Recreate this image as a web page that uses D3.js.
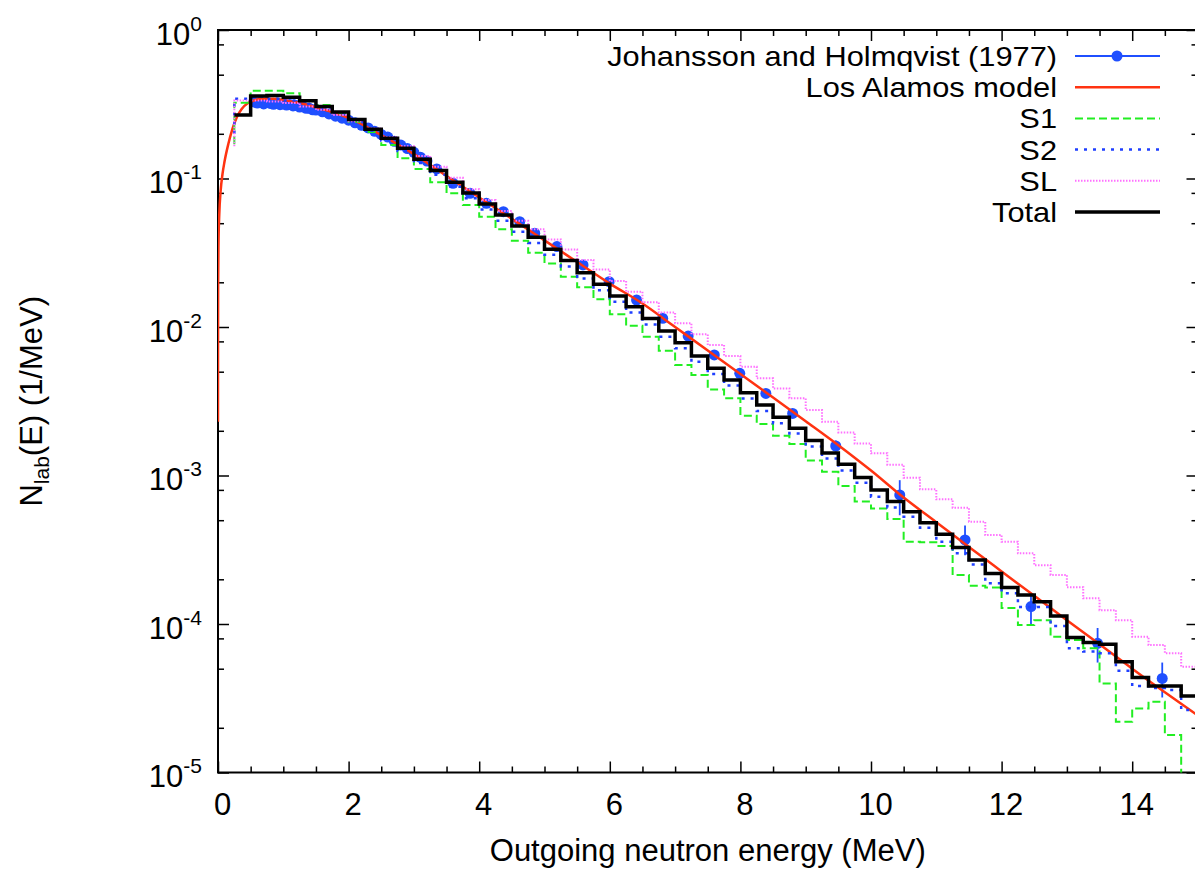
<!DOCTYPE html>
<html>
<head>
<meta charset="utf-8">
<script src="https://cdn.jsdelivr.net/npm/d3@7.9.0/dist/d3.min.js"></script>
<style>
  body { margin: 0; background: #fff; }
  svg text { font-family: "Liberation Sans", Arial, Helvetica, sans-serif; fill: #000; }
</style>
</head>
<body>
<svg id="chart" width="1195" height="870"></svg>
<script>
// histogram bin edges (MeV)
const binEdges = [0.25, 0.5, 0.75, 1.0, 1.25, 1.5, 1.75, 2.0, 2.25, 2.5, 2.75, 3.0, 3.25, 3.5, 3.75, 4.0,
  4.25, 4.5, 4.75, 5.0, 5.25, 5.5, 5.75, 6.0, 6.25, 6.5, 6.75, 7.0, 7.25, 7.5, 7.75, 8.0, 8.25, 8.5, 8.75,
  9.0, 9.25, 9.5, 9.75, 10.0, 10.25, 10.5, 10.75, 11.0, 11.25, 11.5, 11.75, 12.0, 12.25, 12.5, 12.75, 13.0,
  13.25, 13.5, 13.75, 14.0, 14.25, 14.5, 14.75, 15.0];

const totalVals = [0.268, 0.360, 0.362, 0.352, 0.334, 0.305, 0.280, 0.250, 0.215, 0.187, 0.160, 0.135,
  0.113, 0.0945, 0.0798, 0.0673, 0.0568, 0.0479, 0.0402, 0.0334, 0.0280, 0.0232, 0.0194, 0.0162, 0.0137,
  0.0114, 0.0094, 0.00784, 0.00638, 0.00527, 0.00440, 0.00361, 0.00298, 0.00247, 0.00208, 0.00172, 0.00142,
  0.00119, 0.00097, 0.00080, 0.000667, 0.000571, 0.000481, 0.000402, 0.000327, 0.000270, 0.000219, 0.000176,
  0.000157, 0.000141, 0.000113, 8.1e-5, 7.5e-5, 7.3e-5, 5.57e-5, 4.37e-5, 3.82e-5, 3.82e-5, 3.27e-5];

const s1Vals = [0.324, 0.390, 0.390, 0.375, 0.338, 0.313, 0.275, 0.241, 0.206, 0.168, 0.137, 0.116,
  0.0942, 0.0795, 0.0663, 0.0553, 0.0455, 0.0381, 0.0316, 0.0268, 0.0218, 0.0185, 0.0154, 0.0122, 0.0102,
  0.0086, 0.00693, 0.00555, 0.00475, 0.0038, 0.00331, 0.00253, 0.00222, 0.00185, 0.00163, 0.00126, 0.00106,
  0.00085, 0.000667, 0.00060, 0.00051, 0.000358, 0.000355, 0.000335, 0.000214, 0.000181, 0.000176, 0.000128,
  9.85e-5, 0.000106, 8.2e-5, 7.8e-5, 6.86e-5, 3.98e-5, 2.2e-5, 2.7e-5, 3.0e-5, 1.79e-5, 5e-6];

const s2Vals = [0.345, 0.355, 0.345, 0.335, 0.318, 0.295, 0.270, 0.240, 0.210, 0.180, 0.153, 0.127,
  0.106, 0.088, 0.0735, 0.0618, 0.052, 0.0438, 0.0368, 0.0306, 0.0256, 0.0212, 0.0177, 0.0148, 0.0125,
  0.0104, 0.0086, 0.00718, 0.00584, 0.00483, 0.00403, 0.0033, 0.00272, 0.00225, 0.00192, 0.00157, 0.0013,
  0.00108, 0.000895, 0.00072, 0.00061, 0.000528, 0.000445, 0.000358, 0.000299, 0.000252, 0.000188, 0.000161,
  0.00013, 0.00013, 9.7e-5, 6.86e-5, 6.52e-5, 6.35e-5, 4.85e-5, 3.82e-5, 3.7e-5, 3.6e-5, 2.64e-5];

const slVals = [0.335, 0.335, 0.330, 0.322, 0.305, 0.290, 0.268, 0.243, 0.217, 0.190, 0.165, 0.142,
  0.120, 0.101, 0.0846, 0.0716, 0.0604, 0.052, 0.0455, 0.0389, 0.0333, 0.0283, 0.0244, 0.0204, 0.0173,
  0.0147, 0.0125, 0.0106, 0.00893, 0.00757, 0.00638, 0.0054, 0.00451, 0.00386, 0.00331, 0.00276, 0.0023,
  0.00195, 0.00164, 0.00141, 0.00118, 0.000967, 0.000807, 0.000691, 0.000607, 0.000489, 0.000397, 0.000358,
  0.000299, 0.000249, 0.000214, 0.000177, 0.000149, 0.000124, 0.000106, 8.22e-5, 7.22e-5, 6.35e-5, 5.16e-5];

// value where the S1/S2/SL step lines begin at the first edge
const s1Start = 0.17, s2Start = 0.2, slStart = 0.165;

// Los Alamos model curve
const modelE = [0.00003, 0.0003, 0.002, 0.008, 0.02, 0.04, 0.07, 0.1, 0.16, 0.22, 0.29, 0.36, 0.46, 0.57,
  0.7, 0.85, 1.0, 1.25, 1.5, 1.75, 2.0, 2.5, 3.0, 3.5, 4.0, 4.5, 5.0, 5.5, 6.0, 6.5, 7.0, 7.5, 8.0, 8.5,
  9.0, 9.5, 10.0, 10.5, 11.0, 11.5, 12.0, 12.5, 13.0, 13.5, 14.0, 14.5, 15.0];
const modelN = [0.0023, 0.0072, 0.019, 0.037, 0.058, 0.082, 0.108, 0.13, 0.172, 0.215, 0.26, 0.293, 0.322,
  0.338, 0.345, 0.345, 0.338, 0.322, 0.302, 0.28, 0.256, 0.196, 0.146, 0.104, 0.0745, 0.0535, 0.0383,
  0.0274, 0.0196, 0.0144, 0.0100, 0.00695, 0.00482, 0.00335, 0.00232, 0.0016, 0.00108, 0.00071, 0.000485,
  0.00033, 0.000226, 0.000155, 0.000106, 7.3e-5, 5.0e-5, 3.47e-5, 2.43e-5];

// Johansson and Holmqvist (1977)
const expE = [0.55, 0.6, 0.65, 0.7, 0.75, 0.8, 0.85, 0.9, 0.95, 1.0, 1.05, 1.1, 1.15, 1.2, 1.25, 1.3, 1.35,
  1.4, 1.45, 1.5, 1.6, 1.7, 1.8, 1.9, 2.0, 2.1, 2.2, 2.3, 2.4, 2.5, 2.6, 2.7, 2.8, 2.9, 3.0, 3.1, 3.2, 3.35,
  3.6, 3.86, 4.11, 4.37, 4.62, 4.85, 5.19, 5.59, 5.99, 6.41, 6.81, 7.2, 7.6, 7.99, 8.39, 8.8, 9.46, 10.44,
  11.44, 12.45, 13.47, 14.46];
const expN = [0.328, 0.322, 0.327, 0.318, 0.325, 0.32, 0.316, 0.322, 0.314, 0.318, 0.312, 0.315, 0.308, 0.31,
  0.303, 0.305, 0.297, 0.297, 0.29, 0.289, 0.281, 0.272, 0.263, 0.255, 0.247, 0.237, 0.228, 0.219, 0.208,
  0.198, 0.19, 0.178, 0.168, 0.159, 0.15, 0.139, 0.131, 0.116, 0.0928, 0.0795, 0.068, 0.0598, 0.0512, 0.0428,
  0.0348, 0.0262, 0.0202, 0.0152, 0.01145, 0.00869, 0.00648, 0.00488, 0.00357, 0.00262, 0.00158, 0.00074,
  0.000368, 0.000131, 7.41e-5, 4.3e-5];
const errE = [8.8, 9.46, 10.44, 11.44, 12.45, 13.47, 14.46];
const errLo = [0.00245, 0.00145, 0.00054, 0.00029, 9.7e-5, 5.5e-5, 3.2e-5];
const errHi = [0.0028, 0.00172, 0.00093, 0.00046, 0.000159, 9.4e-5, 5.5e-5];

const xMajor = [0, 2, 4, 6, 8, 10, 12, 14];
const xMinor = [0.5, 1, 1.5, 2.5, 3, 3.5, 4.5, 5, 5.5, 6.5, 7, 7.5, 8.5, 9, 9.5, 10.5, 11, 11.5, 12.5, 13, 13.5, 14.5];
const yMajor = [1, 0.1, 0.01, 0.001, 0.0001, 0.00001];
const yExp = ['0', '-1', '-2', '-3', '-4', '-5'];
const yMinor = [0.8, 0.5, 0.2, 0.08, 0.05, 0.02, 0.008, 0.005, 0.002, 0.0008, 0.0005, 0.0002,
  0.00008, 0.00005, 0.00002];

const legendLabels = ['Johansson and Holmqvist (1977)', 'Los Alamos model', 'S1', 'S2', 'SL', 'Total'];

const margin = { left: 218, top: 30 };
const W = 979.5, H = 742.5;

const svg = d3.select('#chart');
const g = svg.append('g').attr('transform', `translate(${margin.left},${margin.top})`);

const x = d3.scaleLinear().domain([0, 15]).range([0, W]);
const y = d3.scaleLog().domain([1e-5, 1]).range([H, 0]);

svg.append('defs').append('clipPath').attr('id', 'clip')
  .append('rect').attr('x', 0).attr('y', 0).attr('width', W).attr('height', H);

// axes: ticks pointing inward on all four sides
const noDomain = sel => sel.select('.domain').remove();
function tickStyle(sel) {
  sel.selectAll('.tick line').attr('stroke', '#000').attr('stroke-width', 1.5);
}

const bottom = g.append('g').attr('transform', `translate(0,${H})`)
  .call(d3.axisBottom(x).tickValues(xMajor).tickSizeInner(-11).tickSizeOuter(0).tickFormat(d3.format('d')))
  .call(noDomain).call(tickStyle);
bottom.selectAll('.tick text').attr('y', 42).attr('dy', 0).attr('dx', 4)
  .attr('font-size', 31).attr('font-family', null);
g.append('g').attr('transform', `translate(0,${H})`)
  .call(d3.axisBottom(x).tickValues(xMinor).tickSizeInner(-6).tickSizeOuter(0).tickFormat(''))
  .call(noDomain).call(tickStyle);
g.append('g')
  .call(d3.axisTop(x).tickValues(xMajor).tickSizeInner(-11).tickSizeOuter(0).tickFormat(''))
  .call(noDomain).call(tickStyle);
g.append('g')
  .call(d3.axisTop(x).tickValues(xMinor).tickSizeInner(-6).tickSizeOuter(0).tickFormat(''))
  .call(noDomain).call(tickStyle);

const left = g.append('g')
  .call(d3.axisLeft(y).tickValues(yMajor).tickSizeInner(-11).tickSizeOuter(0).tickFormat(''))
  .call(noDomain).call(tickStyle);
left.selectAll('.tick text').remove();
left.selectAll('.tick').each(function (d, i) {
  const t = d3.select(this).append('text')
    .attr('x', -16).attr('y', 14).attr('text-anchor', 'end')
    .attr('font-size', 31).attr('fill', '#000');
  t.append('tspan').text('10');
  t.append('tspan').attr('dy', -14).attr('font-size', 21).text(yExp[i]);
});
g.append('g')
  .call(d3.axisLeft(y).tickValues(yMinor).tickSizeInner(-6).tickSizeOuter(0).tickFormat(''))
  .call(noDomain).call(tickStyle);
g.append('g').attr('transform', `translate(${W},0)`)
  .call(d3.axisRight(y).tickValues(yMajor).tickSizeInner(-11).tickSizeOuter(0).tickFormat(''))
  .call(noDomain).call(tickStyle);
g.append('g').attr('transform', `translate(${W},0)`)
  .call(d3.axisRight(y).tickValues(yMinor).tickSizeInner(-6).tickSizeOuter(0).tickFormat(''))
  .call(noDomain).call(tickStyle);

g.append('rect').attr('width', W).attr('height', H)
  .attr('fill', 'none').attr('stroke', '#000').attr('stroke-width', 2);

// axis titles
svg.append('text').attr('x', margin.left + W / 2).attr('y', 861)
  .attr('text-anchor', 'middle').attr('font-size', 31)
  .text('Outgoing neutron energy (MeV)');
const yt = svg.append('text')
  .attr('transform', `translate(42,${margin.top + H / 2}) rotate(-90)`)
  .attr('text-anchor', 'middle').attr('font-size', 31);
yt.append('tspan').text('N');
yt.append('tspan').attr('dy', 7).attr('font-size', 21).text('lab');
yt.append('tspan').attr('dy', -7).text('(E) (1/MeV)');

// data
const plot = g.append('g').attr('clip-path', 'url(#clip)');

function histPoints(vals, start) {
  const pts = [];
  if (start != null) pts.push([binEdges[0], start]);
  vals.forEach((v, i) => pts.push([binEdges[i], v]));
  pts.push([binEdges[vals.length], vals[vals.length - 1]]);
  return pts;
}
const stepLine = d3.line().x(d => x(d[0])).y(d => y(d[1])).curve(d3.curveStepAfter);
const smoothLine = d3.line().x(d => x(d[0])).y(d => y(d[1])).curve(d3.curveMonotoneX);

const expColor = '#1f4fff';
errE.forEach((e, i) => {
  plot.append('line')
    .attr('x1', x(e)).attr('x2', x(e))
    .attr('y1', y(errLo[i])).attr('y2', y(errHi[i]))
    .attr('stroke', expColor).attr('stroke-width', 1.8);
});
plot.selectAll('circle.exp')
  .data(expE.map((e, i) => [e, expN[i]]))
  .join('circle').attr('class', 'exp')
  .attr('cx', d => x(d[0])).attr('cy', d => y(d[1])).attr('r', 5.5)
  .attr('fill', expColor);

const styles = [
  { color: '#ff3311', width: 2.5, dash: null },
  { color: '#22ee22', width: 2, dash: '8,4' },
  { color: '#1f3fff', width: 2.5, dash: '3,6' },
  { color: '#ff70ff', width: 2, dash: '1.5,1.5' },
  { color: '#000000', width: 3.5, dash: null }
];

plot.append('path').attr('d', smoothLine(modelE.map((e, i) => [e, modelN[i]])))
  .attr('fill', 'none').attr('stroke', styles[0].color).attr('stroke-width', styles[0].width);

const hists = [histPoints(s1Vals, s1Start), histPoints(s2Vals, s2Start), histPoints(slVals, slStart),
  histPoints(totalVals, null)];
hists.forEach((pts, i) => {
  const s = styles[i + 1];
  plot.append('path').attr('d', stepLine(pts))
    .attr('fill', 'none').attr('stroke', s.color).attr('stroke-width', s.width)
    .attr('stroke-dasharray', s.dash);
});

// legend (text slightly condensed in height so the rows do not collide)
const legend = svg.append('g');
legendLabels.forEach((label, i) => {
  const ly = 56 + i * 31.2;
  legend.append('text')
    .attr('transform', `translate(1057,${ly + 10}) scale(1.14,1)`)
    .attr('text-anchor', 'end').attr('font-size', 27).text(label);
  if (i === 0) {
    legend.append('line').attr('x1', 1075).attr('x2', 1160).attr('y1', ly).attr('y2', ly)
      .attr('stroke', expColor).attr('stroke-width', 1.8);
    legend.append('circle').attr('cx', 1117).attr('cy', ly).attr('r', 5.5).attr('fill', expColor);
  } else {
    const s = styles[i - 1];
    legend.append('line').attr('x1', 1075).attr('x2', 1160).attr('y1', ly).attr('y2', ly)
      .attr('stroke', s.color).attr('stroke-width', s.width)
      .attr('stroke-dasharray', s.dash);
  }
});
</script>
</body>
</html>
